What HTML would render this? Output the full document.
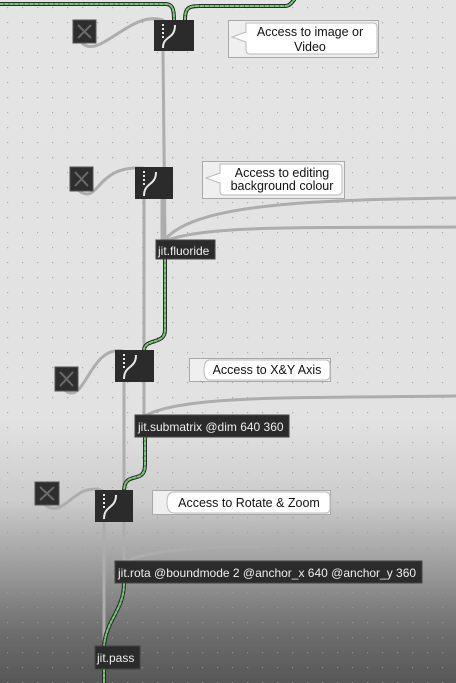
<!DOCTYPE html>
<html><head><meta charset="utf-8"><style>
html,body{margin:0;padding:0;}
body{width:456px;height:683px;overflow:hidden;background:linear-gradient(to bottom,#e4e4e4 0px,#e2e2e2 420px,#cccccc 500px,#979797 575px,#6c6c6c 635px,#575757 683px);}
svg{position:absolute;left:0;top:0;}
text{font-family:"Liberation Sans",sans-serif;}
</style></head><body>
<svg width="456" height="683" viewBox="0 0 456 683">
<defs>
<pattern id="dots" width="15" height="15" patternUnits="userSpaceOnUse">
<rect x="7" y="7" width="1.2" height="1.2" fill="#9a9a9a"/>
</pattern>
</defs>
<rect width="456" height="683" fill="url(#dots)" opacity="0.8"/>

<g fill="none" stroke="#adadad" stroke-width="3" stroke-linecap="round">
<path d="M82 43 C 100 60, 130 10, 163 20"/>
<path d="M163 51 L 165 240"/>
<path d="M79 191 C 100 205, 95 165, 143 168"/>
<path d="M144 199 L 144 350"/>
<path d="M162 199 L 162 240"/>
<path d="M163 242 C 190 205, 300 200, 456 198"/>
<path d="M163 242 C 200 225, 300 228, 456 227"/>
<path d="M66 391 C 85 405, 90 345, 123 351"/>
<path d="M124 382 L 124 490"/>
<path d="M144 382 L 144 415"/>
<path d="M145 416 C 180 395, 300 398, 456 396"/>
<path d="M45 505 C 65 520, 75 480, 103 491"/>
<path d="M104 522 L 104 646"/>
<path d="M124 522 L 124 561"/>
<path d="M125 562 C 160 542, 300 546, 456 545"/>
</g>
<g fill="none" stroke-linecap="round">
<path d="M0 4 L 165 4 C 172 4, 174 8, 174 20" stroke="#2a2a2a" stroke-width="4"/>
<path d="M0 4 L 165 4 C 172 4, 174 8, 174 20" stroke="#6fcf6f" stroke-width="2" stroke-dasharray="3 2"/>
<path d="M185 20 C 185 8, 188 6, 200 6 L 285 6 C 290 6, 292 2, 294 0" stroke="#2a2a2a" stroke-width="4"/>
<path d="M185 20 C 185 8, 188 6, 200 6 L 285 6 C 290 6, 292 2, 294 0" stroke="#6fcf6f" stroke-width="2" stroke-dasharray="3 2"/>
<path d="M165 259 L 165 330 C 165 345, 145 338, 144 350" stroke="#2a2a2a" stroke-width="4"/>
<path d="M165 259 L 165 330 C 165 345, 145 338, 144 350" stroke="#6fcf6f" stroke-width="2" stroke-dasharray="3 2"/>
<path d="M145 437 L 145 465 C 145 485, 125 470, 124 490" stroke="#2a2a2a" stroke-width="4"/>
<path d="M145 437 L 145 465 C 145 485, 125 470, 124 490" stroke="#6fcf6f" stroke-width="2" stroke-dasharray="3 2"/>
<path d="M124 583 C 124 610, 106 620, 104 646" stroke="#2a2a2a" stroke-width="4"/>
<path d="M124 583 C 124 610, 106 620, 104 646" stroke="#6fcf6f" stroke-width="2" stroke-dasharray="3 2"/>
<path d="M104 669 L 104 683" stroke="#2a2a2a" stroke-width="4"/>
<path d="M104 669 L 104 683" stroke="#6fcf6f" stroke-width="2" stroke-dasharray="3 2"/>
</g>

<g fill="#2e2e2e" stroke="#555" stroke-width="1">
<rect x="73" y="20" width="23" height="23"/>
<rect x="70" y="167" width="23" height="24"/>
<rect x="55" y="367" width="23" height="24"/>
<rect x="35" y="482" width="24" height="23"/>
</g>
<g stroke="#6a6a6a" stroke-width="2">
<path d="M78 25 L91 38 M91 25 L78 38"/>
<path d="M75 172 L88 186 M88 172 L75 186"/>
<path d="M60 372 L73 386 M73 372 L60 386"/>
<path d="M40 487 L54 500 M54 487 L40 500"/>
</g>

<g fill="#2b2b2b">
<rect x="154" y="20" width="40" height="31"/>
<rect x="135" y="167" width="38" height="32"/>
<rect x="115" y="350" width="39" height="32"/>
<rect x="95" y="490" width="38" height="32"/>
</g>
<g fill="none" stroke="#e8e8e8" stroke-width="2">
<path d="M163 48 C 163 35, 175 40, 175 25"/>
<path d="M144 196 C 144 182, 156 186, 156 172"/>
<path d="M124 379 C 124 365, 136 369, 136 355"/>
<path d="M104 519 C 104 505, 116 509, 116 495"/>
</g>
<g stroke="#e8e8e8" stroke-width="2" stroke-dasharray="2 2">
<path d="M163 24 L163 38"/><path d="M144 171 L144 185"/><path d="M124 354 L124 368"/><path d="M104 494 L104 508"/>
</g>

<g fill="#efefef" stroke="#a8a8a8">
<rect x="228.5" y="20.5" width="150" height="37"/>
<rect x="202.5" y="161.5" width="142" height="37"/>
<rect x="189.5" y="358.5" width="141" height="23"/>
<rect x="152.5" y="490.5" width="178" height="24"/>
</g>
<g fill="#fff" stroke="#bbb">
<path d="M246 23 L373 23 Q377 23 377 27 L377 50 Q377 54 373 54 L250 54 Q246 54 246 50 L246 42 L232 37 L246 32 Z"/>
<path d="M220 164 L337 164 Q342 164 342 168 L342 191 Q342 195 337 195 L224 195 Q220 195 220 191 L220 183 L206 178 L220 173 Z"/>
<path d="M210 360 L325 360 Q330 360 330 365 L330 375 Q330 380 325 380 L210 380 Q204 380 204 370 Q204 360 210 360 Z"/>
<path d="M174 492 L325 492 Q330 492 330 497 L330 508 Q330 513 325 513 L174 513 Q167 513 167 502 Q167 492 174 492 Z"/>
</g>
<g font-size="12.5" fill="#111" text-anchor="middle">
<text x="310" y="36">Access to image or</text>
<text x="310" y="51">Video</text>
<text x="282" y="177">Access to editing</text>
<text x="282" y="190">background colour</text>
<text x="267" y="374">Access to X&amp;Y Axis</text>
<text x="249" y="507">Access to Rotate &amp; Zoom</text>
</g>

<g fill="#2b2b2b" stroke="#444">
<rect x="156" y="240" width="59" height="19"/>
<rect x="135" y="415" width="154" height="22"/>
<rect x="115" y="561" width="307" height="22"/>
<rect x="95" y="646" width="45" height="23"/>
</g>
<g font-size="12" fill="#eee">
<text x="158" y="255">jit.fluoride</text>
<text x="138" y="431">jit.submatrix @dim 640 360</text>
<text x="118" y="577">jit.rota @boundmode 2 @anchor_x 640 @anchor_y 360</text>
<text x="97" y="662">jit.pass</text>
</g>
</svg>
</body></html>
